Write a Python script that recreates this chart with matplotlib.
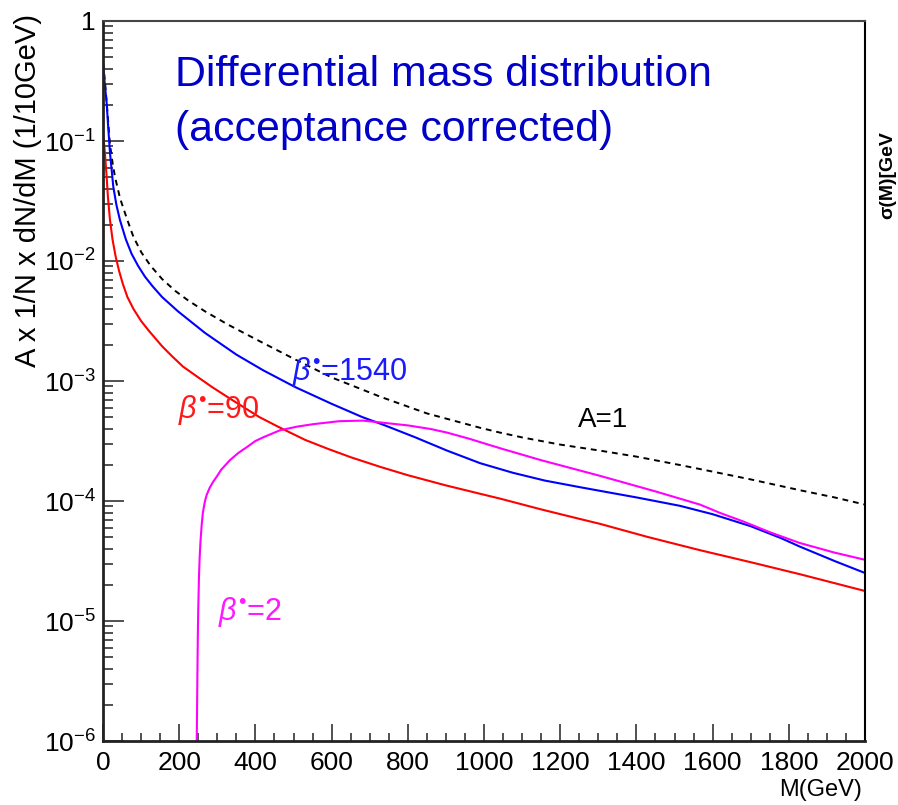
import numpy as np
import matplotlib
matplotlib.use("Agg")
import matplotlib.pyplot as plt
from matplotlib.ticker import FixedLocator, LogLocator, MultipleLocator, NullFormatter

plt.rcParams['font.family'] = ['Liberation Sans', 'DejaVu Sans']
plt.rcParams['mathtext.fontset'] = 'custom'
plt.rcParams['mathtext.rm'] = 'Liberation Sans'
plt.rcParams['mathtext.it'] = 'Liberation Sans:italic'
plt.rcParams['mathtext.bf'] = 'Liberation Sans:bold'

# -------------------------------
# Data (y given as log10 exponent)
# -------------------------------

# A=1 reference curve (dashed)
m_a1 = [0, 5, 10, 18, 25, 31.5, 45, 63, 80, 101, 125, 155, 190, 224, 268, 328,
        400, 504, 600, 727, 850, 990, 1042, 1100, 1200, 1304, 1400, 1514, 1600,
        1700, 1829, 1920, 2000]
log_a1 = [-0.35, -0.50, -0.69, -1.02, -1.18, -1.30, -1.48, -1.65, -1.80, -1.93,
          -2.04, -2.15, -2.25, -2.33, -2.42, -2.53, -2.65, -2.82, -2.97, -3.13,
          -3.27, -3.39, -3.43, -3.47, -3.53, -3.58, -3.63, -3.70, -3.755, -3.82,
          -3.91, -3.97, -4.03]

# beta* = 1540 (blue)
m_1540 = [0, 4, 9.6, 14, 18.4, 27, 35, 44.6, 60, 75, 92, 110, 130, 155, 197, 268,
          350, 420, 504, 600, 680, 740, 820, 903, 990, 1076, 1160, 1252, 1330,
          1400, 1514, 1600, 1700, 1780, 1829, 1920, 2000]
log_1540 = [-0.35, -0.50, -0.686, -0.90, -1.10, -1.38, -1.53, -1.66, -1.82, -1.94,
            -2.04, -2.13, -2.21, -2.30, -2.42, -2.60, -2.78, -2.91, -3.05, -3.19,
            -3.30, -3.37, -3.47, -3.58, -3.685, -3.765, -3.83, -3.885, -3.93,
            -3.97, -4.04, -4.11, -4.21, -4.31, -4.38, -4.50, -4.60]

# beta* = 90 (red)
m_90 = [0, 5, 9.6, 13, 18.4, 25, 33, 42, 52, 64, 80, 100, 120, 155, 180, 210, 250,
        286, 330, 370, 410, 459, 530, 590, 650, 727, 800, 900, 990, 1042, 1150,
        1252, 1304, 1430, 1567, 1700, 1829, 2000]
log_90 = [-0.93, -1.10, -1.30, -1.47, -1.66, -1.82, -1.96, -2.08, -2.19, -2.30,
          -2.40, -2.50, -2.58, -2.71, -2.79, -2.88, -2.97, -3.05, -3.14, -3.22,
          -3.30, -3.38, -3.49, -3.565, -3.635, -3.715, -3.785, -3.87, -3.94,
          -3.98, -4.07, -4.15, -4.19, -4.30, -4.41, -4.51, -4.61, -4.75]

# beta* = 2 (magenta)
m_2 = [246, 247, 248, 249, 250, 252, 254, 256, 259, 262, 267, 272, 280, 289, 300,
       310, 333, 355, 378, 400, 420, 465, 510, 551, 620, 682, 727, 800, 860, 903,
       960, 1042, 1150, 1304, 1450, 1567, 1620, 1680, 1750, 1829, 1920, 2000]
log_2 = [-6.0, -5.7, -5.38, -5.1, -4.9, -4.62, -4.45, -4.33, -4.2, -4.1, -4.01,
         -3.95, -3.89, -3.84, -3.79, -3.74, -3.66, -3.6, -3.55, -3.5, -3.47, -3.41,
         -3.38, -3.36, -3.335, -3.33, -3.345, -3.37, -3.40, -3.43, -3.48, -3.56,
         -3.66, -3.79, -3.92, -4.03, -4.1, -4.17, -4.26, -4.35, -4.43, -4.49]

y_ticks = [1e-6, 1e-5, 1e-4, 1e-3, 1e-2, 1e-1, 1]
y_tick_labels = [r'$10^{-6}$', r'$10^{-5}$', r'$10^{-4}$', r'$10^{-3}$',
                 r'$10^{-2}$', r'$10^{-1}$', '1']

# -------------------------------
# Plot
# -------------------------------

fig = plt.figure(figsize=(8.98, 8.05), dpi=100)
ax = fig.add_axes([103 / 898, 64 / 805, 762 / 898, 720 / 805])

ax.plot(m_a1, 10.0 ** np.array(log_a1), color='black', lw=1.4, ls=(0, (3, 2.5)))
ax.plot(m_1540, 10.0 ** np.array(log_1540), color='#0000ff', lw=1.5)
ax.plot(m_90, 10.0 ** np.array(log_90), color='#ff0000', lw=1.5)
ax.plot(m_2, 10.0 ** np.array(log_2), color='#ff00ff', lw=1.5)

ax.set_yscale('log')
ax.set_xlim(0, 2000)
ax.set_ylim(1e-6, 1)

ax.xaxis.set_major_locator(MultipleLocator(200))
ax.xaxis.set_minor_locator(MultipleLocator(50))
ax.yaxis.set_major_locator(FixedLocator(y_ticks))
ax.set_yticklabels(y_tick_labels)
ax.yaxis.set_minor_locator(LogLocator(base=10, subs=np.arange(2, 10)))
ax.yaxis.set_minor_formatter(NullFormatter())

ax.tick_params(which='both', direction='in', top=False, right=False,
               color='#333333', width=1.2, labelsize=19)
ax.tick_params(axis='y', which='major', length=15, pad=5)
ax.tick_params(axis='y', which='minor', length=7)
ax.tick_params(axis='x', which='major', length=12, pad=7)
ax.tick_params(axis='x', which='minor', length=6)

for side in ['left', 'bottom']:
    ax.spines[side].set_linewidth(2)
    ax.spines[side].set_color('#222222')
ax.spines['right'].set_linewidth(1.5)
ax.spines['top'].set_linewidth(1.5)
ax.spines['top'].set_color('#444444')

# Texts
ax.text(0.0945, 0.925, 'Differential mass distribution', transform=ax.transAxes,
        color='#0000c8', fontsize=30.8, ha='left', va='center')
ax.text(0.0945, 0.849, '(acceptance corrected)', transform=ax.transAxes,
        color='#0000c8', fontsize=30.8, ha='left', va='center')

beta = r'$\mathit{\beta}^{•}$'
ax.text(496, 1.19e-3, beta + '=1540', color='#1a1aff',
        fontsize=22, ha='left', va='center')
ax.text(197, 5.7e-4, beta + '=90', color='#ff1a1a',
        fontsize=22, ha='left', va='center')
ax.text(302, 1.19e-5, beta + '=2', color='#ff1aff',
        fontsize=22, ha='left', va='center')
ax.text(1247, 4.73e-4, 'A=1', color='black', fontsize=20, ha='left', va='center')

fig.text(28 / 898, 1 - 14 / 805, 'A x 1/N x dN/dM (1/10GeV)', rotation=90,
         ha='center', va='top', fontsize=21)
fig.text(862 / 898, 1 - 790 / 805, 'M(GeV)', ha='right', va='center', fontsize=17)
fig.text(888 / 898, 1 - 175 / 805, 'σ(M)[GeV', rotation=90, ha='center',
         va='center', fontsize=14, fontweight='bold')

plt.savefig('out.png', dpi=100)
